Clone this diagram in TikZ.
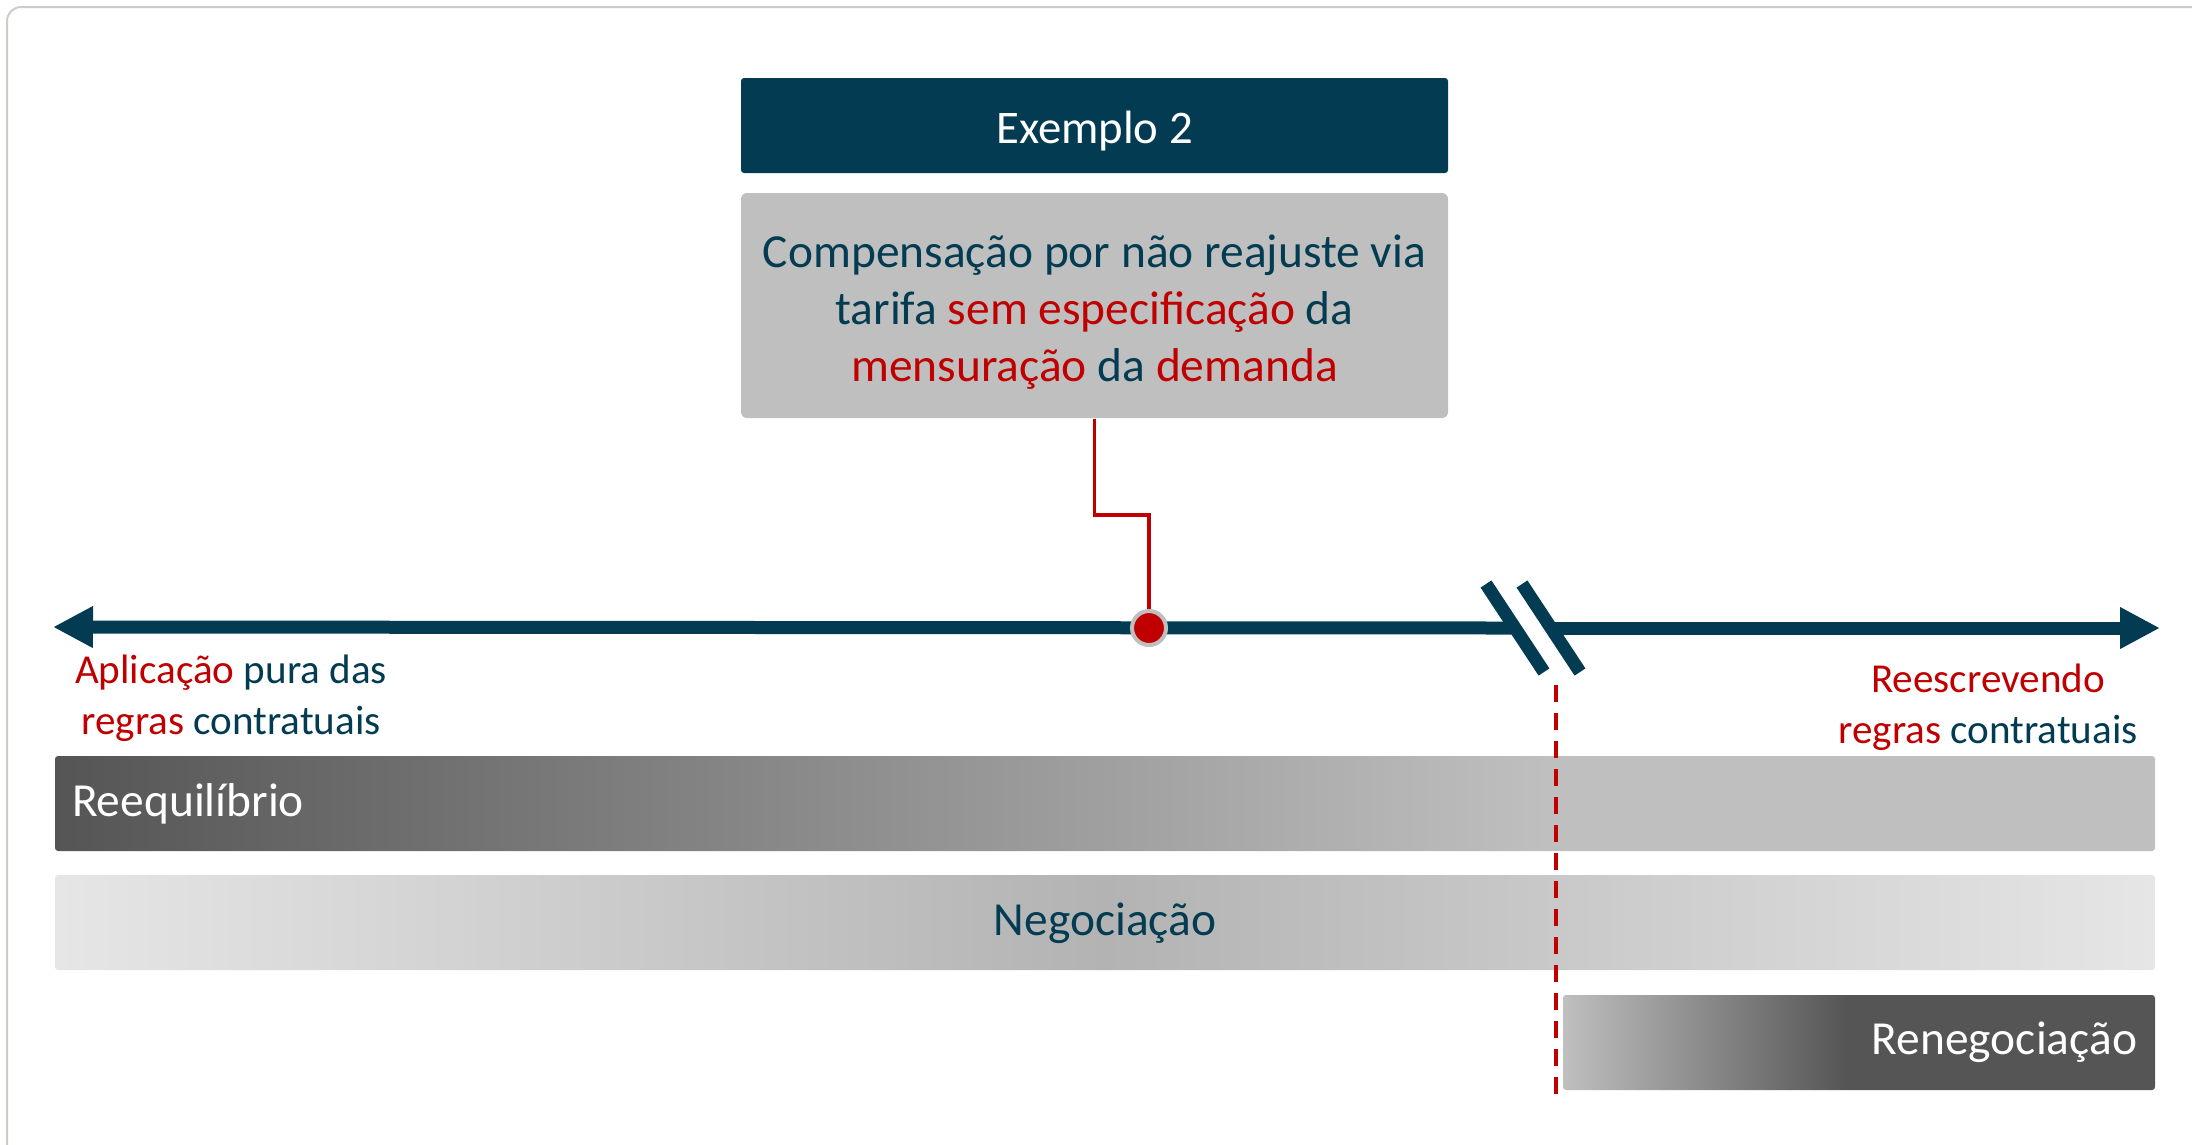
\documentclass[tikz,border=0pt]{standalone}
\usepackage{fontspec}
\setmainfont{Carlito}
\usetikzlibrary{arrows.meta,calc}

\definecolor{navy}{HTML}{033C52}
\definecolor{accent}{HTML}{C00000}
\definecolor{boxgray}{HTML}{BFBFBF}
\definecolor{bardark}{HTML}{555555}
\definecolor{barlight}{HTML}{BFBFBF}
\definecolor{negoedge}{HTML}{E6E6E6}
\definecolor{negomid}{HTML}{B3B3B3}
\definecolor{framegray}{HTML}{D0CBC6}

\pgfdeclarehorizontalshading{reeqshade}{100bp}{color(0bp)=(bardark); color(25bp)=(bardark); color(60.5bp)=(barlight); color(100bp)=(barlight)}
\pgfdeclarehorizontalshading{negoshade}{100bp}{color(0bp)=(negoedge); color(25bp)=(negoedge); color(50bp)=(negomid); color(75bp)=(negoedge); color(100bp)=(negoedge)}
\pgfdeclarehorizontalshading{renegshade}{100bp}{color(0bp)=(barlight); color(25bp)=(barlight); color(49bp)=(bardark); color(100bp)=(bardark)}

\begin{document}
\begin{tikzpicture}[x=0.1mm, y=-0.1mm,
    >={Triangle[length=4mm, width=3.9mm]},
    titlebox/.style={fill=navy, rounded corners=0.3mm, minimum width=70.7mm, minimum height=9.5mm},
    titletext/.style={text=white, font=\fontsize{13.3}{16}\selectfont},
    notebox/.style={fill=boxgray, rounded corners=0.6mm, minimum width=70.7mm, minimum height=22.5mm},
    notetext/.style={text=navy, align=center, font=\fontsize{13.5}{16.2}\selectfont},
    axis/.style={navy, line width=1.3mm},
    link/.style={accent, line width=0.35mm},
    cutline/.style={accent, line width=0.4mm, dash pattern=on 1.7mm off 1.1mm},
    dot/.style={circle, fill=accent, draw=boxgray, line width=0.4mm, minimum size=3.4mm, inner sep=0pt},
    bar/.style={shade, minimum height=9.5mm, inner ysep=0pt, rounded corners=0.3mm,
        font=\fontsize{13.5}{16}\selectfont},
    lbl/.style={text=navy, align=center, font=\fontsize{11.7}{14.5}\selectfont}]
    \useasboundingbox (0,0) rectangle (2192,1144);
    \draw[framegray, line width=0.2mm, rounded corners=1.4mm] (7,7) rectangle (2230,1170);
    % example box
    \node[titlebox] (title) at (1094.5,125.5) {};
    \node[titletext] (titletxt) at ([yshift=-0.55mm]title.center) {Exemplo 2};
    \node[notebox] (note) at (1094.5,305.5) {};
    \node[notetext] (notetxt) at ([yshift=-0.7mm]note.center) {Compensação por não reajuste via\\
        tarifa \textcolor{accent}{sem especificação} da\\
        \textcolor{accent}{mensuração} da \textcolor{accent}{demanda}};
    % axis with break
    \coordinate (tipL) at (53,627);
    \coordinate (tipR) at (2160,628);
    \coordinate (brkA) at (1515,628);
    \coordinate (brkB) at (1551,628);
    \coordinate (mark) at (1149,628);
    \coordinate (kink) at (1149,515);
    \draw[axis, <-] (tipL) -- (brkA);
    \draw[axis, ->] (brkB) -- (tipR);
    \foreach \c in {brkA,brkB} {\draw[axis] ($(\c)+(-29,-44)$) -- ($(\c)+(29,44)$);}
    \draw[link] (note.south) |- (kink) -- (mark);
    \node[dot] (pt) at (mark) {};
    % end labels
    \node[lbl] (pureL) at (231,698) {\textcolor{accent}{Aplicação} pura das\\\textcolor{accent}{regras} contratuais};
    \node[lbl] (rewriteR) at (1988,707) {\textcolor{accent}{Reescrevendo}\\\textcolor{accent}{regras} contratuais};
    % bars
    \node[bar, shading=reeqshade, text=white, text width=206.6mm, inner xsep=1.7mm, align=left]
        (reeq) at (1105,803.5) {Reequilíbrio};
    \node[bar, shading=negoshade, text=navy, minimum width=210mm, text depth=0.6mm] (nego) at (1105,922.5) {Negociação};
    \node[bar, shading=renegshade, text=white, text width=55.6mm, inner xsep=1.8mm, align=right]
        (reneg) at (1859,1042.5) {Renegociação};
    \coordinate (cutTop) at (1556,685);
    \coordinate (cutBot) at (1556,1096);
    \draw[cutline] (cutTop) -- (cutBot);
\end{tikzpicture}
\end{document}
